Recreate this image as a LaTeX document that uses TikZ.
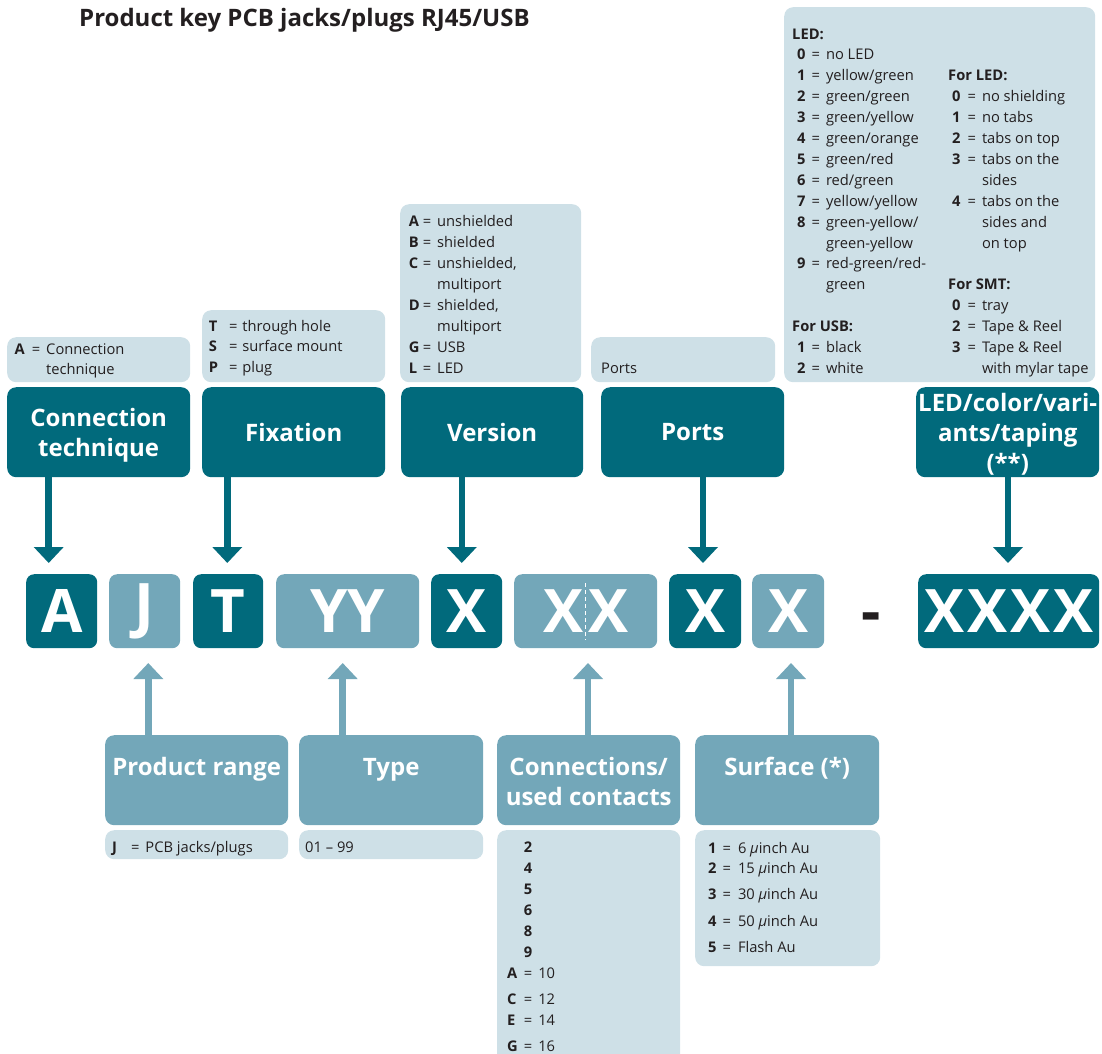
\documentclass[tikz,border=0pt]{standalone}
\usepackage{fontspec}
\setmainfont{Open Sans}
\usepackage{array}
\usetikzlibrary{positioning, arrows.meta, calc}

\definecolor{keydark}{RGB}{1,106,124}
\definecolor{keymid}{RGB}{115,167,185}
\definecolor{keylight}{RGB}{206,224,231}
\definecolor{keytext}{RGB}{35,31,32}

\newcommand\notefont{\fontsize{14.7}{20.9}\selectfont}
\newcommand\headfont{\bfseries\fontsize{24}{30}\selectfont}
\newcommand\bigfont{\bfseries\fontsize{60}{60}\selectfont}
\newenvironment{keylist}[2]{\begin{tabular}[t]{@{}l@{\hspace{#1}}c@{\hspace{#2}}l@{}}}{\end{tabular}}

\tikzset{
  >={Triangle[width=29pt,length=16pt]},
  panel/.style={anchor=north west, inner sep=0pt, rounded corners=9pt},
  notebox/.style={panel, fill=keylight},
  headbox/.style={panel, fill=keydark, text=white, font=\headfont, align=center, text depth=0pt, minimum height=90pt},
  fieldbox/.style={panel, fill=keymid, minimum height=90pt},
  darkkey/.style={panel, rounded corners=8pt, fill=keydark, text=white, font=\bigfont, minimum height=74pt},
  midkey/.style={darkkey, fill=keymid},
  notetext/.style={anchor=base west, inner sep=0pt, font=\notefont, text=keytext},
  fieldtext/.style={anchor=base, inner sep=0pt, font=\headfont, text=white},
  downarrow/.style={->, keydark, line width=6.5pt},
  uparrow/.style={->, keymid, line width=6.5pt},
}

\begin{document}
\begin{tikzpicture}[x=1pt, y=-1pt]
\useasboundingbox (0,0) rectangle (1102,1053);
\clip (0,0) rectangle (1102,1053);

\node[anchor=base west, inner sep=0pt, font=\bfseries\fontsize{24}{28}\selectfont, text=keytext] (title) at (79,26) {Product key PCB jacks/plugs RJ45/USB};

% notes above
\node[notebox, minimum width=183pt, minimum height=45pt] (conninfo) at (7,337) {};
\node[notebox, minimum width=183pt, minimum height=72pt] (fixinfo) at (202,310) {};
\node[notebox, minimum width=181pt, minimum height=178pt] (verinfo) at (400,204) {};
\node[notebox, minimum width=184pt, minimum height=45pt] (portinfo) at (591,337) {};
\node[notebox, minimum width=311pt, minimum height=375pt] (ledinfo) at (784,7) {};

\node[notetext] (conntext) at (14.5,354) {\begin{keylist}{7pt}{6pt}
\textbf{A} & = & Connection\\
 & & technique
\end{keylist}};
\node[notetext] (fixtext) at (208.6,331) {\begin{keylist}{11pt}{5pt}
\textbf{T} & = & through hole\\
\textbf{S} & = & surface mount\\
\textbf{P} & = & plug
\end{keylist}};
\node[notetext] (vertext) at (408.7,226.7) {\begin{keylist}{3pt}{6pt}
\textbf{A} & = & unshielded\\
\textbf{B} & = & shielded\\
\textbf{C} & = & unshielded,\\
 & & multiport\\
\textbf{D} & = & shielded,\\
 & & multiport\\
\textbf{G} & = & USB\\
\textbf{L} & = & LED
\end{keylist}};
\node[notetext] (porttext) at (601,373) {Ports};
\node[notetext] (ledleft) at (797,39) {\begin{keylist}{6pt}{6pt}
\multicolumn{3}{@{\hspace{-5pt}}l@{}}{\textbf{LED:}}\\
\textbf{0} & = & no LED\\
\textbf{1} & = & yellow/green\\
\textbf{2} & = & green/green\\
\textbf{3} & = & green/yellow\\
\textbf{4} & = & green/orange\\
\textbf{5} & = & green/red\\
\textbf{6} & = & red/green\\
\textbf{7} & = & yellow/yellow\\
\textbf{8} & = & green-yellow/\\
 & & green-yellow\\
\textbf{9} & = & red-green/red-\\
 & & green\\
 & & \\
\multicolumn{3}{@{\hspace{-5pt}}l@{}}{\textbf{For USB:}}\\
\textbf{1} & = & black\\
\textbf{2} & = & white
\end{keylist}};
\node[notetext] (ledright) at (952,80.8) {\begin{keylist}{7pt}{6pt}
\multicolumn{3}{@{\hspace{-4pt}}l@{}}{\textbf{For LED:}}\\
\textbf{0} & = & no shielding\\
\textbf{1} & = & no tabs\\
\textbf{2} & = & tabs on top\\
\textbf{3} & = & tabs on the\\
 & & sides\\
\textbf{4} & = & tabs on the\\
 & & sides and\\
 & & on top\\
 & & \\
\multicolumn{3}{@{\hspace{-4pt}}l@{}}{\textbf{For SMT:}}\\
\textbf{0} & = & tray\\
\textbf{2} & = & Tape \& Reel\\
\textbf{3} & = & Tape \& Reel\\
 & & with mylar tape
\end{keylist}};

% headings above
\node[headbox, minimum width=183pt] (conn) at (7,387) {Connection\\technique};
\node[headbox, minimum width=183pt] (fix) at (202,387) {Fixation};
\node[headbox, minimum width=182pt] (ver) at (401,387) {Version};
\node[headbox, minimum width=183pt] (ports) at (601,387) {Ports};
\node[headbox, minimum width=183pt] (led) at (916,387) {LED/color/vari-\\ants/taping\\(**)};

% the key
\node[darkkey, minimum width=71pt] (kA) at (26,574) {A};
\node[midkey, minimum width=71pt] (kJ) at (109,574) {J};
\node[darkkey, minimum width=70pt] (kT) at (193,574) {T};
\node[midkey, minimum width=143pt] (kYY) at (276,574) {YY};
\node[darkkey, minimum width=71pt] (kV) at (431,574) {X};
\node[midkey, minimum width=143pt] (kXX) at (514,574) {X\hspace{5pt}X};
\node[darkkey, minimum width=72pt] (kP) at (669,574) {X};
\node[midkey, minimum width=72pt] (kS) at (752,574) {X};
\node[anchor=base, inner sep=0pt, font=\bigfont, text=keytext] (dash) at (871,632.5) {-};
\node[darkkey, minimum width=181pt] (kL) at (918,574) {X\hspace{3pt}X\hspace{3pt}X\hspace{3pt}X};
\draw[white, line width=1.4pt, dash pattern=on 4pt off 3pt] ([yshift=-9pt]kXX.north) -- ([yshift=8pt]kXX.south);

% headings below
\node[fieldbox, minimum width=183pt] (range) at (105,735) {};
\node[fieldbox, minimum width=184pt] (type) at (299,735) {};
\node[fieldbox, minimum width=183pt] (contacts) at (497,735) {};
\node[fieldbox, minimum width=184pt] (surface) at (695,735) {};
\node[fieldtext] (rangetext) at ([yshift=-40.5pt]range.north) {Product range};
\node[fieldtext] (typetext) at ([yshift=-40.5pt]type.north) {Type};
\node[fieldtext] (contactstext) at ([yshift=-40.5pt]contacts.north) {\begin{tabular}[t]{@{}c@{}}Connections/\\used contacts\end{tabular}};
\node[fieldtext] (surfacetext) at ([yshift=-40.5pt]surface.north) {Surface (*)};

% notes below
\node[notebox, minimum width=183pt, minimum height=29pt] (rangeinfo) at (105,830) {};
\node[notebox, minimum width=184pt, minimum height=29pt] (typeinfo) at (299,830) {};
\node[notebox, minimum width=183pt, minimum height=250pt] (contactsinfo) at (497,830) {};
\node[notebox, minimum width=185pt, minimum height=136pt] (surfaceinfo) at (695,830) {};

\node[notetext] (rangenote) at (112,852) {\begin{keylist}{14pt}{6pt}
\textbf{J} & = & PCB jacks/plugs
\end{keylist}};
\node[notetext] (typenote) at (305,852) {01 – 99};
\node[notetext] (contactsnote) at (507,852.7) {\begin{keylist}{6pt}{6pt}
 & \textbf{2} & \\
 & \textbf{4} & \\
 & \textbf{5} & \\
 & \textbf{6} & \\
 & \textbf{8} & \\
 & \textbf{9} & \\
\textbf{A} & = & 10\\[5.5pt]
\textbf{C} & = & 12\\
\textbf{E} & = & 14\\[5pt]
\textbf{G} & = & 16
\end{keylist}};
\node[notetext] (surfacenote) at (708,853) {\begin{keylist}{6pt}{7pt}
\textbf{1} & = & 6 {\itshape µ}inch Au\\
\textbf{2} & = & 15 {\itshape µ}inch Au\\[5.1pt]
\textbf{3} & = & 30 {\itshape µ}inch Au\\[6.1pt]
\textbf{4} & = & 50 {\itshape µ}inch Au\\[5.1pt]
\textbf{5} & = & Flash Au
\end{keylist}};

% arrows
\coordinate (tA) at (48.7,563);
\coordinate (tT) at (227.3,563);
\coordinate (tV) at (461.8,563);
\coordinate (tP) at (703,563);
\coordinate (tL) at (1008,563);
\draw[downarrow] (conn.south -| tA) -- (tA);
\draw[downarrow] (fix.south -| tT) -- (tT);
\draw[downarrow] (ver.south -| tV) -- (tV);
\draw[downarrow] (ports.south -| tP) -- (tP);
\draw[downarrow] (led.south -| tL) -- (tL);
\coordinate (tJ) at (148.3,663);
\coordinate (tY) at (342.7,663);
\coordinate (tC) at (588,663);
\coordinate (tS) at (791,663);
\draw[uparrow] (range.north -| tJ) -- (tJ);
\draw[uparrow] (type.north -| tY) -- (tY);
\draw[uparrow] (contacts.north -| tC) -- (tC);
\draw[uparrow] (surface.north -| tS) -- (tS);
\end{tikzpicture}
\end{document}
